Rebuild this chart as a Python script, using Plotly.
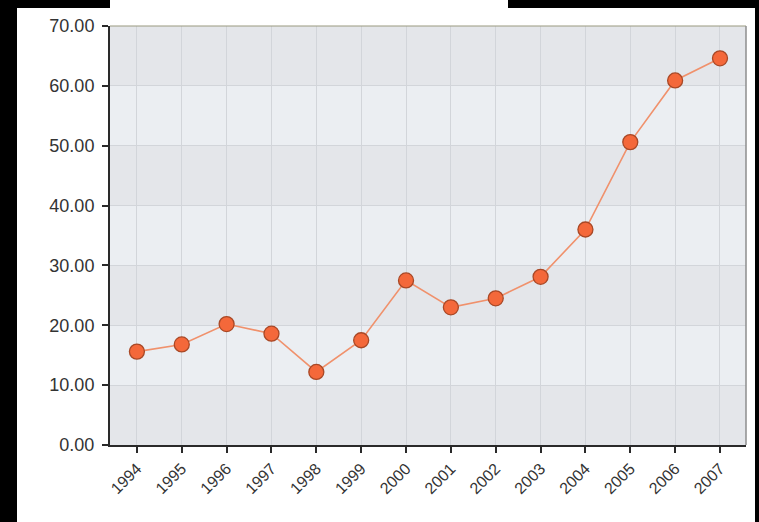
import plotly.graph_objects as go

years = [1994, 1995, 1996, 1997, 1998, 1999, 2000, 2001, 2002, 2003, 2004, 2005, 2006, 2007]
values = [15.6, 16.8, 20.2, 18.6, 12.2, 17.5, 27.5, 23.0, 24.5, 28.1, 36.0, 50.6, 60.9, 64.6]
y_ticks = [0, 10, 20, 30, 40, 50, 60, 70]
y_tick_labels = ["0.00", "10.00", "20.00", "30.00", "40.00", "50.00", "60.00", "70.00"]

W, H = 759, 522
L, R, T, B = 110, 746, 26, 445  # plot area in pixels


def px_x(p):
    return (p - L) / (R - L)


def px_y(p):
    return (B - p) / (B - T)


fig = go.Figure()
fig.add_trace(go.Scatter(
    x=years, y=values, mode="lines+markers",
    line=dict(color="#f0916c", width=1.6),
    marker=dict(size=15, color="#f4683a", line=dict(color="#a84826", width=1.3)),
    hoverinfo="x+y", showlegend=False,
))

shapes = []
# alternating horizontal bands
for i in range(len(y_ticks) - 1):
    if i % 2 == 0:
        shapes.append(dict(type="rect", xref="paper", yref="y", x0=0, x1=1,
                           y0=y_ticks[i], y1=y_ticks[i + 1],
                           fillcolor="#e4e6ea", line=dict(width=0), layer="below"))
# plot border: top and right
shapes.append(dict(type="line", xref="paper", yref="paper", x0=0, x1=1, y0=1, y1=1,
                   line=dict(color="#9a9a80", width=1.2)))
shapes.append(dict(type="line", xref="paper", yref="paper", x0=1, x1=1, y0=0, y1=1,
                   line=dict(color="#8e8e8e", width=1.5)))
# black frame pieces around the white card
black = "#000000"
frame = [
    (0, 17, 0, H),
    (755, W, 0, H),
    (0, 110, 0, 8),
    (508, W, 0, 8),
]
for x0, x1, y0, y1 in frame:
    shapes.append(dict(type="rect", xref="paper", yref="paper",
                       x0=px_x(x0), x1=px_x(x1), y0=px_y(y1), y1=px_y(y0),
                       fillcolor=black, line=dict(width=0), layer="below"))

fig.update_layout(
    width=W, height=H,
    margin=dict(l=L, r=W - R, t=T, b=H - B, pad=0),
    paper_bgcolor="#ffffff",
    plot_bgcolor="#ebeef2",
    shapes=shapes,
    font=dict(family="Liberation Sans, Arial, sans-serif", color="#333333"),
    xaxis=dict(
        range=[1993.4, 2007.58],
        tickmode="array", tickvals=years, ticktext=[str(y) for y in years],
        tickangle=-45, tickfont=dict(size=16, color="#333333"),
        showgrid=True, gridcolor="#d2d5da", gridwidth=1,
        showline=True, linecolor="#2a2a2a", linewidth=2,
        ticks="outside", ticklen=6, tickcolor="#2a2a2a", tickwidth=1.5,
        zeroline=False, fixedrange=True,
    ),
    yaxis=dict(
        range=[0, 70],
        tickmode="array", tickvals=y_ticks, ticktext=y_tick_labels,
        tickfont=dict(size=18, color="#333333"),
        ticklabelstandoff=4,
        showgrid=True, gridcolor="#d2d5da", gridwidth=1,
        showline=True, linecolor="#2a2a2a", linewidth=2,
        ticks="outside", ticklen=6, tickcolor="#2a2a2a", tickwidth=1.5,
        zeroline=False, fixedrange=True,
    ),
)

fig.write_html(
    "out.html",
    config={"displayModeBar": False},
    post_script="document.body.style.margin='0px';document.body.style.overflow='hidden';",
)
